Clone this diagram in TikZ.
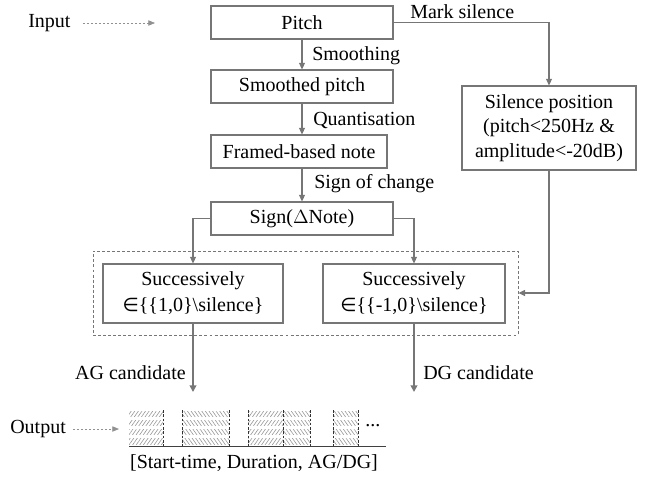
\documentclass[tikz,border=0pt]{standalone}
\usepackage{fontspec}
\setmainfont{Liberation Serif}
\newfontfamily\symfont{DejaVu Sans}
\usetikzlibrary{arrows.meta,patterns.meta}
\definecolor{ln}{RGB}{118,118,118}
\definecolor{hatchc}{RGB}{150,150,150}
\tikzset{
  txt/.style={font=\fontsize{15}{18.5}\selectfont, inner sep=0pt, align=center},
  box/.style={txt, draw=ln, line width=0.8pt, minimum height=24.75pt},
  grpbox/.style={draw=ln, line width=0.6pt, dash pattern=on 2.2pt off 1.6pt, inner sep=0pt},
  arr/.style={draw=ln, line width=0.8pt, -{Triangle[length=5pt,width=4.5pt]}},
  bigarr/.style={draw=ln, line width=1.7pt, -{Triangle[length=5pt,width=5pt]}},
  dasharr/.style={draw=ln!80, line width=0.5pt, dash pattern=on 1.8pt off 1.2pt, -{Triangle[length=5pt,width=4pt]}},
  sep/.style={draw=black!80, line width=0.6pt, dash pattern=on 2pt off 1.2pt},
  hne/.style={pattern={Lines[angle=55,distance=2.2pt,line width=0.45pt]}, pattern color=hatchc},
  hnw/.style={pattern={Lines[angle=-55,distance=2.2pt,line width=0.45pt]}, pattern color=hatchc},
}
\newcommand{\hrows}[3]{% style, x1, x2
  \foreach \ya/\yb in {411/416.5, 420/425.5, 429/434.5, 438.5/444.5}
    \path[#1] (#2,\ya) rectangle (#3,\yb);
}
\begin{document}
\begin{tikzpicture}[x=0.75pt,y=-0.75pt]
\useasboundingbox (0,0) rectangle (649,486);

% main chain
\node[box, minimum width=136.5pt] (pitch) at (302,22.5) {Pitch};
\node[box, minimum width=136.5pt] (smooth) at (302,86.5) {Smoothed pitch};
\node[box, minimum width=132pt] (frame) at (299,151.5) {Framed-based note};
\node[box, minimum width=136.5pt] (sign) at (302,218.5) {Sign($\Delta$Note)};
\node[box, minimum width=130.5pt, minimum height=63pt] (sil) at (549,128) {Silence position\\(pitch<250Hz \&\\amplitude<-20dB)};

\node[grpbox, minimum width=318.75pt, minimum height=63pt] (grp) at (305.5,293) {};
\node[box, txt, font=\fontsize{15}{19.5}\selectfont, minimum width=135pt, minimum height=44.25pt] (ag) at (193,293.5) {Successively\\{\symfont\fontsize{14}{18}\selectfont ∈}\{\{1,0\}\textbackslash silence\}};
\node[box, font=\fontsize{15}{19.5}\selectfont, minimum width=136.5pt, minimum height=44.25pt] (dg) at (414,293.5) {Successively\\{\symfont\fontsize{14}{18}\selectfont ∈}\{\{-1,0\}\textbackslash silence\}};

% connectors
\draw[arr] (pitch.south -| 302,0) -- (smooth.north -| 302,0);
\draw[arr] (smooth.south -| 302,0) -- (frame.north -| 302,0);
\draw[arr] (frame.south -| 302,0) -- (sign.north -| 302,0);
\draw[arr] (pitch.east) -| (sil.north);
\draw[arr] (sil.south) |- (grp.east);
\draw[arr] (sign.west) -| (ag.north);
\draw[arr] (sign.east) -| (dg.north);

% labels
\node[txt, anchor=west] (l1) at (312,56) {Smoothing};
\node[txt, anchor=west] (l2) at (313,120) {Quantisation};
\node[txt, anchor=west] (l3) at (314,184) {Sign of change};
\node[txt, anchor=west] (l4) at (410,12) {Mark silence};

% outputs
\coordinate (agend) at (193,392);
\coordinate (dgend) at (414,392);
\draw[bigarr] (ag.south) -- (agend);
\draw[bigarr] (dg.south) -- (dgend);
\node[txt, anchor=east] (agl) at (186,373) {AG candidate};
\node[txt, anchor=west] (dgl) at (423,373) {DG candidate};

% input / output
\node[txt, anchor=west] (in) at (28,23) {Input};
\coordinate (inend) at (155,23);
\draw[dasharr, shorten <=9pt] (in.east) -- (inend);
\node[txt, anchor=west] (out) at (10,429) {Output};
\coordinate (outend) at (119,429);
\draw[dasharr, shorten <=5pt] (out.east) -- (outend);

% timeline
\hrows{hne}{129}{163}
\hrows{hnw}{182}{229}
\hrows{hne}{248}{283}
\hrows{hnw}{283}{310}
\hrows{hnw}{333}{358}
\foreach \xx in {163,182,229,248,283,310,333,358}
  \draw[sep] (\xx,410) -- (\xx,446);
\draw[draw=black!75, line width=1.1pt] (129,446.7) -- (386,446.7);
\node[txt, anchor=west] (dots) at (365,426) {...};
\node[txt] (cap) at (254,463) {[Start-time, Duration, AG/DG]};
\end{tikzpicture}
\end{document}
